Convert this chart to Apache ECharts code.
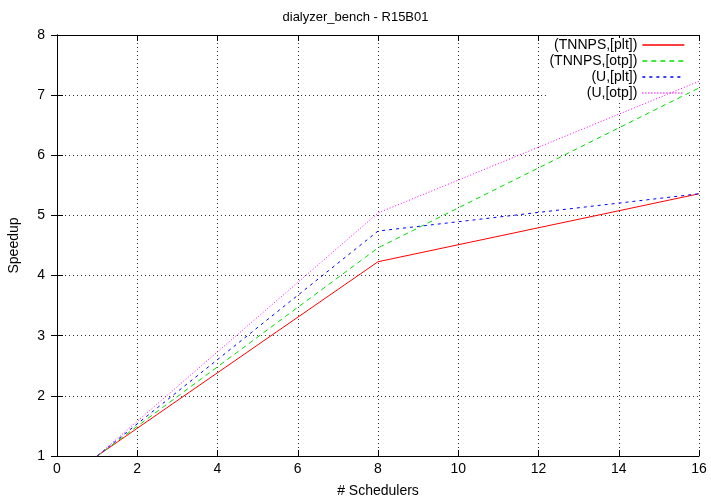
<!DOCTYPE html>
<html>
<head>
<meta charset="utf-8">
<script src="https://cdn.jsdelivr.net/npm/echarts@6/dist/echarts.min.js"></script>
<style>
  html, body { margin: 0; padding: 0; background: #fff; }
  #chart { width: 711px; height: 497px; }
</style>
</head>
<body>
<div id="chart"></div>
<script>
// schedulers used in the runs
const schedulers = [1, 8, 16];
// speedup per configuration
const tnnpsPlt = [1, 4.23, 5.36];
const tnnpsOtp = [1, 4.46, 7.12];
const uPlt = [1, 4.74, 5.36];
const uOtp = [1, 5.04, 7.23];

const names = ["(TNNPS,[plt])", "(TNNPS,[otp])", "(U,[plt])", "(U,[otp])"];
const colors = ["#ff0000", "#00e000", "#0000ff", "#ff00ff"];
const dashes = ["solid", [5, 4], [3, 4], [1, 2]];
const values = [tnnpsPlt, tnnpsOtp, uPlt, uOtp];

const font = "Liberation Sans, Helvetica, Arial, sans-serif";

let chart = echarts.init(document.getElementById("chart"));

const series = names.map((n, i) => ({
  name: n,
  type: "line",
  data: schedulers.map((x, k) => [x, values[i][k]]),
  symbol: "none",
  lineStyle: { color: colors[i], width: 1, type: dashes[i] },
  itemStyle: { color: colors[i] },
  z: 3
}));

const gridLine = { show: true, lineStyle: { color: "#333", type: [1, 3], width: 1 } };

chart.setOption({
  animation: false,
  backgroundColor: "#fff",
  title: {
    text: "dialyzer_bench - R15B01",
    left: "center",
    top: 6,
    textStyle: { fontFamily: font, fontSize: 13, fontWeight: "normal", color: "#000" }
  },
  legend: {
    orient: "vertical",
    right: 24,
    top: 38,
    align: "right",
    itemWidth: 42,
    itemHeight: 12,
    itemGap: 2,
    padding: [0, 2, 0, 2],
    backgroundColor: "#fff",
    z: 2,
    itemStyle: { opacity: 0 },
    lineStyle: { width: 1.3 },
    textStyle: { fontFamily: font, fontSize: 14, color: "#000" },
    data: names
  },
  grid: { left: 57, right: 12, top: 35, bottom: 41, outerBoundsMode: "none" },
  xAxis: [{
    type: "value",
    min: 0, max: 16, interval: 2,
    name: "# Schedulers",
    nameLocation: "middle",
    nameGap: 28,
    nameTextStyle: { fontFamily: font, fontSize: 14, color: "#000" },
    axisLine: { show: true, lineStyle: { color: "#000", width: 1 } },
    axisTick: { inside: true, length: 6, lineStyle: { color: "#000" } },
    axisLabel: { fontFamily: font, fontSize: 14, color: "#000", margin: 6 },
    splitLine: gridLine
  }, {
    type: "value",
    position: "top",
    min: 0, max: 16, interval: 2,
    axisLine: { show: true, lineStyle: { color: "#000", width: 1 } },
    axisTick: { inside: true, length: 6, lineStyle: { color: "#000" } },
    axisLabel: { show: false },
    splitLine: { show: false }
  }],
  yAxis: [{
    type: "value",
    min: 1, max: 8, interval: 1,
    name: "Speedup",
    nameLocation: "middle",
    nameGap: 36,
    nameTextStyle: { fontFamily: font, fontSize: 14, color: "#000" },
    axisLine: { show: true, lineStyle: { color: "#000", width: 1 } },
    axisTick: { inside: true, length: 6, lineStyle: { color: "#000" } },
    axisLabel: { fontFamily: font, fontSize: 14, color: "#000", margin: 12 },
    splitLine: gridLine
  }, {
    type: "value",
    position: "right",
    min: 1, max: 8, interval: 1,
    axisLine: { show: true, lineStyle: { color: "#000", width: 1 } },
    axisTick: { inside: true, length: 6, lineStyle: { color: "#000" } },
    axisLabel: { show: false },
    splitLine: { show: false }
  }],
  series: series
});
</script>
</body>
</html>
